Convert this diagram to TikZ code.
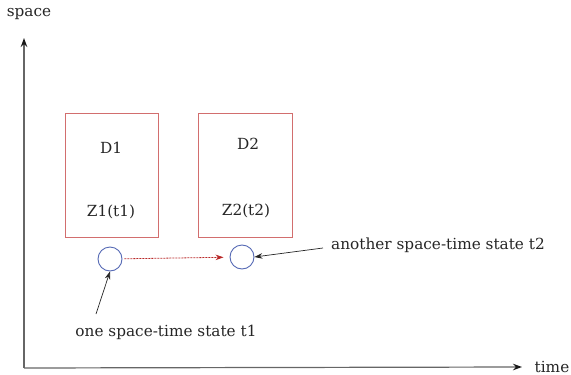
\documentclass[tikz,border=0pt]{standalone}
\usepackage{fontspec}
\setmainfont{DejaVu Serif}
\usetikzlibrary{arrows.meta}
\definecolor{boxred}{RGB}{210,110,110}
\definecolor{circblue}{RGB}{85,105,180}
\definecolor{darrow}{RGB}{185,40,40}
\begin{document}
\begin{tikzpicture}[x=1pt,y=-1pt,
  txt/.style={font=\fontsize{15.3}{17}\selectfont, inner sep=0pt, text=black!85},
  dbox/.style={draw=boxred, line width=1pt},
  state/.style={draw=circblue, line width=0.9pt, circle, minimum size=24pt, inner sep=0pt},
  axis/.style={draw=black!60, line width=1.2pt, -{Stealth[length=9pt,width=6.5pt,color=black!90]}},
  ptr/.style={draw=black!85, line width=0.7pt, -{Stealth[length=8pt,width=5.5pt]}},
  trans/.style={draw=darrow, line width=0.8pt, dash pattern=on 2pt off 1pt, shorten <=2pt, shorten >=6pt, -{Stealth[length=8pt,width=5.5pt]}}]
\useasboundingbox (0,0) rectangle (571,375);
% axes
\coordinate (O) at (24,368);
\coordinate (ytip) at (24,38);
\coordinate (xtip) at (522,367);
\draw[axis] (O) -- (ytip);
\draw[axis] (O) -- (xtip);
\node[txt] (space) at (29,14) {space};
\node[txt] (time) at (552,367) {time};
% boxes
\draw[dbox] (65,113) rectangle (158,237);
\draw[dbox] (198,113) rectangle (292,237);
\node[txt] (d1) at (111,148) {D1};
\node[txt] (d2) at (248,144) {D2};
\node[txt] (z1) at (111,212) {Z1(t1)};
\node[txt] (z2) at (246,211) {Z2(t2)};
% states
\node[state] (s1) at (110,259) {};
\node[state] (s2) at (242,257) {};
\draw[trans] (s1) -- (s2);
% labels
\node[txt] (l1) at (166,332) {one space-time state t1};
\node[txt] (l2) at (438,245) {another space-time state t2};
\coordinate (p1) at (96,314);
\coordinate (p2) at (323,248);
\draw[ptr] (p1) -- (s1.south);
\draw[ptr] (p2) -- (s2.east);
\end{tikzpicture}
\end{document}
